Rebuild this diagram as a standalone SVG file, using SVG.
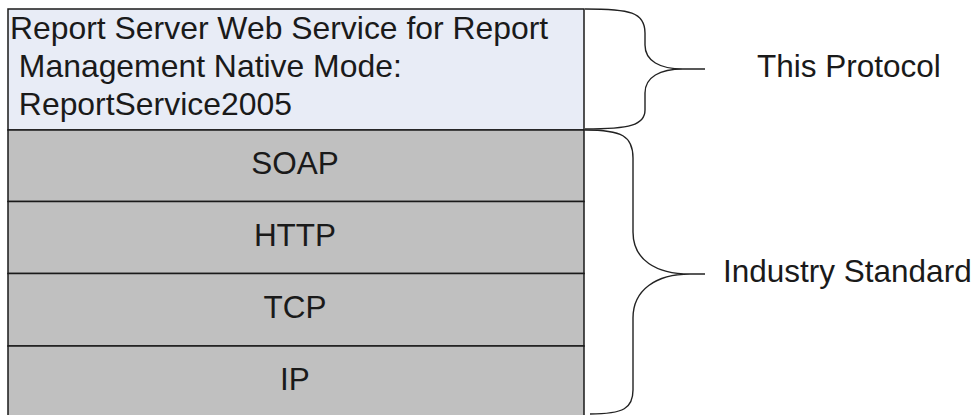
<svg xmlns="http://www.w3.org/2000/svg" width="973" height="415" viewBox="0 0 973 415">
<style>
  .t { font-family: "Liberation Sans", Arial, sans-serif; font-size: 31.5px; fill: #1a1a1a; }
  .tb { font-size: 31.9px; }
  .c { text-anchor: middle; }
  .box { stroke: #1a1a1a; stroke-width: 1.5; }
  .brace { fill: none; stroke: #222; stroke-width: 1.4; }
</style>
<rect x="0" y="0" width="973" height="415" fill="#ffffff"/>
<g id="protocol">
  <rect class="box" x="8" y="9" width="576" height="121" fill="#e8ecf6"/>
  <text class="t tb" x="10" y="39" xml:space="preserve">Report Server Web Service for Report</text>
  <text class="t tb" x="10" y="77" xml:space="preserve"> Management Native Mode:</text>
  <text class="t tb" x="10" y="115" xml:space="preserve"> ReportService2005</text>
</g>
<g id="soap">
  <rect class="box" x="8" y="130" width="576" height="71.5" fill="#c0c0c0"/>
  <text class="t c" x="295" y="174">SOAP</text>
</g>
<g id="http">
  <rect class="box" x="8" y="201.5" width="576" height="72" fill="#c0c0c0"/>
  <text class="t c" x="295" y="246">HTTP</text>
</g>
<g id="tcp">
  <rect class="box" x="8" y="273.5" width="576" height="72.5" fill="#c0c0c0"/>
  <text class="t c" x="295" y="318">TCP</text>
</g>
<g id="ip">
  <rect class="box" x="8" y="346" width="576" height="72" fill="#c0c0c0"/>
  <text class="t c" x="295" y="390">IP</text>
</g>
<g id="connectors">
  <path class="brace" d="M585,9 C630,9 645,12 645,33 L645,45 C645,61 660,69 683,69 L705,69 M683,69 C660,69 645,77 645,93 L645,110 C645,125 630,129 585,129"/>
  <path class="brace" d="M585,130 C622,130 633,136 633,158 L633,232 C633,260 656,274 690,274 L705,274 M690,274 C656,274 633,290 633,318 L633,390 C633,408 624,414 590,414"/>
</g>
<g id="label-protocol">
  <text class="t" x="757" y="77">This Protocol</text>
</g>
<g id="label-industry">
  <text class="t" x="723" y="282">Industry Standard</text>
</g>
</svg>
